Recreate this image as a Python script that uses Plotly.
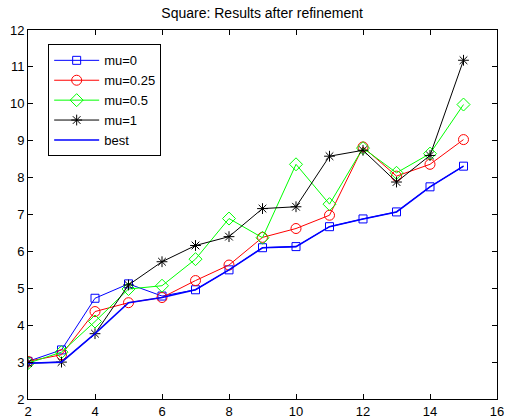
import plotly.graph_objects as go

# Results after refinement for the square problem, by problem size
sizes = list(range(2, 16))
mu_0 = [3.02, 3.33, 4.73, 5.12, 4.79, 4.96, 5.50, 6.10, 6.13, 6.67, 6.88, 7.07, 7.75, 8.31]
mu_025 = [3.02, 3.20, 4.37, 4.61, 4.75, 5.21, 5.63, 6.38, 6.62, 6.98, 8.83, 8.04, 8.36, 9.03]
mu_05 = [2.97, 3.27, 4.10, 4.98, 5.07, 5.79, 6.89, 6.37, 8.36, 7.28, 8.80, 8.13, 8.65, 9.98]
mu_1 = [2.97, 3.00, 3.77, 5.09, 5.72, 6.16, 6.40, 7.16, 7.21, 8.58, 8.74, 7.88, 8.60, 11.18]
best = [2.97, 3.00, 3.77, 4.61, 4.75, 4.96, 5.50, 6.10, 6.13, 6.67, 6.88, 7.07, 7.75, 8.31]

x_ticks = [2, 4, 6, 8, 10, 12, 14, 16]
y_ticks = [2, 3, 4, 5, 6, 7, 8, 9, 10, 11, 12]

FONT = "Liberation Sans, Arial"

series = [
    ("mu=0", mu_0, "#0000ff", "square-open", 8),
    ("mu=0.25", mu_025, "#ff0000", "circle-open", 10),
    ("mu=0.5", mu_05, "#00ff00", "diamond-open", 10),
    ("mu=1", mu_1, "#000000", "asterisk-open", 9),
]

fig = go.Figure()
for name, vals, color, symbol, size in series:
    fig.add_trace(go.Scatter(
        x=sizes, y=vals, name=name, mode="lines+markers",
        line=dict(color=color, width=1),
        marker=dict(symbol=symbol, size=size, color=color,
                    line=dict(color=color, width=1)),
    ))
fig.add_trace(go.Scatter(
    x=sizes, y=best, name="best", mode="lines",
    line=dict(color="#0000ff", width=1.6),
))

axis_common = dict(
    showgrid=False, zeroline=False, showline=True, linecolor="black",
    linewidth=1, mirror="ticks", ticks="inside", ticklen=5,
    tickcolor="black", automargin=False,
    tickfont=dict(family=FONT, size=13, color="black"),
)
fig.update_xaxes(range=[2, 16], tickvals=x_ticks, **axis_common)
fig.update_yaxes(range=[2, 12], tickvals=y_ticks, **axis_common)

fig.update_layout(
    width=506, height=418,
    margin=dict(l=28, r=9, t=30, b=19, autoexpand=False),
    paper_bgcolor="white", plot_bgcolor="white",
    title=dict(text="Square: Results after refinement", x=0.518, xanchor="center",
               y=0.968, yanchor="middle",
               font=dict(family=FONT, size=14, color="black")),
    legend=dict(x=0.043, y=0.961, xanchor="left", yanchor="top",
                bgcolor="white", bordercolor="black", borderwidth=1,
                font=dict(family=FONT, size=13, color="black"),
                tracegroupgap=0, itemwidth=45),
    showlegend=True,
)

fig.write_html("out.html")
